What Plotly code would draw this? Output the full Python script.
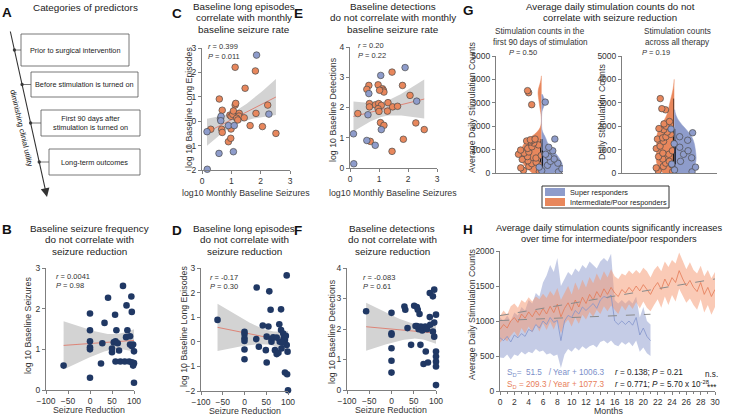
import numpy as np
import plotly.graph_objects as go

W, H = 730, 417
FONT = "Liberation Sans, Arial, sans-serif"
NAVY = "#203864"
ORANGE = "#E8875C"
BLUE = "#8E9CCB"
OUTL = "#4a4a4a"
REDLINE = "#E07060"
BAND = "#D3D3D3"

# ---------------- data ----------------
# B: seizure reduction vs log10 baseline seizures
b_red = [-60, 0, 0, 0, 0, 0, 0, 25, 28, 33, 41, 57, 50, 50, 54, 58, 60, 63, 66, 58, 69, 79, 75, 83, 85, 82, 91, 94, 95, 91, 95, 98, 100, 95, 100, 98, 100, 89]
b_sz = [0.60, 1.88, 1.47, 1.20, 1.05, 1.00, 0.30, 0.65, 1.15, 1.65, 2.27, 1.85, 0.93, 1.02, 1.17, 1.20, 1.47, 1.15, 0.97, 0.70, 0.70, 0.70, 2.56, 2.08, 1.47, 1.30, 1.32, 2.30, 1.92, 1.12, 1.08, 1.12, 0.95, 0.68, 0.66, 0.60, 0.18, 0.70]

# C: monthly baseline seizures vs long episodes
c_blue_x = [1.86, 0.18, 0.58, 1.07, 0.17, 0.63, 0.65, 0.64, 0.90, 1.10, 2.28]
c_blue_y = [2.71, -1.97, -1.32, -1.25, -0.43, 0.10, 0.20, 0.02, -0.18, -0.18, 0.29]
c_or_x = [1.13, 1.82, 1.47, 0.59, 1.13, 1.15, 0.69, 2.24, 1.84, 0.95, 0.99, 1.05, 1.07, 1.27, 1.26, 1.18, 1.44, 0.30, 0.67, 0.69, 0.99, 1.64, 2.06, 2.52, 0.90, 0.98, 1.22]
c_or_y = [2.21, 2.06, 1.35, 0.91, 0.66, 0.73, 0.45, 0.66, 0.32, 0.25, 0.20, 0.28, 0.42, 0.32, 0.21, 0.12, 0.14, -0.33, -0.33, -0.46, -0.32, -0.18, -0.22, -0.50, -0.84, -0.70, 0.05]

# D: seizure reduction vs long episodes
d_red = [-62, 0, 0, 0, 0, 0, 0, 27, 28, 33, 42, 49, 51, 51, 57, 55, 60, 62, 62, 66, 70, 74, 78, 80, 84, 81, 85, 84, 89, 90, 93, 95, 97, 97, 99, 93, 98, 100, 87, 74]
d_le = [0.89, 0.41, 0.32, 0.14, 0.03, -0.31, -0.71, 0.11, 2.21, -0.20, 0.66, -0.34, 0.21, -0.84, 2.05, 0.62, 1.30, 0.11, 0.00, 0.18, -0.34, -0.50, -0.45, 0.71, 1.32, 0.00, -0.27, 0.48, 0.34, 0.14, 0.07, 0.24, 2.70, -0.13, -0.40, -1.25, -1.32, -1.97, -0.04, 0.17]

# E: monthly baseline seizures vs detections
e_blue_x = [1.90, 1.06, 0.65, 0.62, 0.12, 0.13, 0.58, 0.87, 1.08, 2.30]
e_blue_y = [3.32, 3.06, 2.46, 1.76, 1.13, 0.14, 0.91, 0.75, 1.27, 2.21]
e_or_x = [1.45, 0.65, 0.58, 0.97, 1.12, 1.15, 1.17, 1.02, 1.81, 2.07, 0.27, 0.67, 0.67, 0.88, 0.99, 1.08, 0.97, 1.00, 1.29, 1.31, 1.47, 1.64, 1.05, 1.17, 0.70, 1.84, 1.45, 2.27, 2.56]
e_or_y = [3.17, 2.73, 2.60, 2.75, 2.62, 2.57, 2.51, 2.57, 2.73, 2.40, 1.80, 2.13, 2.02, 2.09, 2.13, 2.07, 1.96, 1.87, 1.88, 2.16, 2.02, 2.04, 1.50, 1.41, 0.88, 0.95, 0.55, 1.49, 1.27]

# F: seizure reduction vs detections
f_red = [-57, 0, 0, 0, 0, 0, 0, 29, 31, 36, 44, 51, 57, 59, 63, 54, 57, 61, 66, 69, 72, 76, 80, 65, 72, 77, 82, 86, 86, 93, 96, 96, 93, 96, 87, 100, 100, 100, 100, 100, 100]
f_det = [2.58, 2.53, 1.86, 1.81, 1.37, 0.96, 0.57, 2.74, 2.63, 2.03, 1.48, 2.76, 2.72, 2.63, 2.49, 2.10, 2.10, 1.99, 2.08, 1.95, 2.05, 2.08, 1.99, 1.48, 0.85, 1.26, 0.90, 2.39, 3.18, 3.07, 3.29, 2.21, 1.92, 1.75, 2.14, 2.47, 1.26, 1.10, 0.93, 0.77, 0.16]

# G: daily stimulation counts
g90_or = [3520, 3430, 2920, 1450, 1420, 1400, 1370, 1330, 1280, 1200, 1120, 1050, 980, 900, 870, 850, 800, 750, 700, 640, 580, 520, 460, 400, 340, 280, 220, 170, 110, 60]
g90_bl = [3030, 1450, 1100, 950, 800, 700, 600, 500, 420, 330, 250, 180, 100, 50]
gall_or = [3180, 2750, 2700, 2200, 2100, 2000, 1900, 1850, 1750, 1650, 1550, 1500, 1450, 1350, 1250, 1150, 1050, 950, 850, 800, 700, 600, 500, 420, 350, 280, 220, 150, 100, 60]
gall_bl = [1880, 1720, 1550, 1400, 1250, 1100, 950, 800, 650, 500, 380, 250, 130, 50]

# H: average daily stimulation counts over time
h_months_or = [i * 0.5 for i in range(61)]
h_or_mean = [880, 950, 900, 1000, 1050, 980, 1100, 1040, 1130, 1060, 1150, 1080, 1180, 1100, 1210, 1120, 1240, 1060, 1180, 1260,
             1150, 1300, 1200, 1340, 1250, 1380, 1300, 1420, 1340, 1460, 1380, 1480, 1400, 1350, 1450, 1400, 1480, 1420, 1500, 1430,
             1520, 1450, 1380, 1480, 1550, 1450, 1600, 1500, 1620, 1550, 1720, 1600, 1500, 1580, 1480, 1420, 1550, 1380, 1480, 1350, 1450]
h_or_sd = [190, 200, 190, 210, 200, 210, 200, 220, 210, 220, 200, 230, 210, 230, 220, 240, 230, 240, 220, 240,
           230, 250, 240, 250, 230, 250, 240, 260, 240, 250, 240, 260, 240, 250, 230, 250, 240, 250, 230, 250,
           240, 260, 240, 250, 240, 260, 250, 270, 250, 270, 260, 250, 240, 260, 250, 260, 240, 260, 250, 260, 250]
h_months_bl = [i * 0.5 for i in range(43)]
h_bl_mean = [760, 720, 780, 700, 800, 760, 820, 780, 880, 850, 950, 900, 1000, 950, 1050, 980, 1010, 720, 1000, 1080,
             1050, 1150, 1100, 1200, 1150, 1200, 1250, 1180, 1300, 1350, 1330, 1370, 1000, 950, 1000, 950, 1000, 940, 1050, 800,
             900, 780, 720]
h_bl_lo = [480, 470, 520, 450, 520, 500, 560, 520, 560, 540, 600, 560, 580, 520, 540, 500, 520, 330, 520, 600,
           560, 620, 580, 640, 600, 640, 660, 620, 700, 720, 680, 720, 660, 640, 700, 660, 700, 640, 720, 560,
           620, 540, 500]
h_bl_hi = [1050, 1000, 1080, 1000, 1120, 1080, 1200, 1150, 1300, 1250, 1400, 1350, 1550, 1650, 1800, 1700, 1900, 1500, 1600, 1700,
           1650, 1750, 1700, 1800, 1750, 1850, 1800, 1750, 1850, 1900, 1850, 1960, 1300, 1250, 1300, 1250, 1300, 1250, 1350, 1050,
           1200, 1000, 950]
h_fit_bl = (51.5, 1006.3)   # slope per year, intercept
h_fit_or = (209.3, 1077.3)

# ---------------- helpers ----------------
annotations = []
shapes = []


def txt(x, y, s, size=9.5, color="#222", xanchor="center", bold=False, angle=0, yanchor="middle"):
    if bold:
        s = "<b>" + s + "</b>"
    annotations.append(dict(x=x / W, y=1 - y / H, xref="paper", yref="paper", text=s, showarrow=False,
                            font=dict(size=size, color=color, family=FONT), xanchor=xanchor, yanchor=yanchor,
                            textangle=angle, borderpad=0))


def lines(xc, y0, arr, size=9.9, step=11.5, color="#222"):
    for k, s in enumerate(arr):
        txt(xc, y0 + k * step, s, size=size, color=color)


def rect(x0, y0, x1, y1, line="#555", fill=None, width=0.8):
    shapes.append(dict(type="rect", xref="paper", yref="paper", x0=x0 / W, x1=x1 / W, y0=1 - y1 / H, y1=1 - y0 / H,
                       line=dict(color=line, width=width), fillcolor=fill if fill else "rgba(0,0,0,0)"))


def seg(x0, y0, x1, y1, color="#444", width=0.8):
    shapes.append(dict(type="line", xref="paper", yref="paper", x0=x0 / W, x1=x1 / W, y0=1 - y0 / H, y1=1 - y1 / H,
                       line=dict(color=color, width=width)))


def dot(x, y, r=1.6, color="#444"):
    shapes.append(dict(type="circle", xref="paper", yref="paper", x0=(x - r) / W, x1=(x + r) / W,
                       y0=1 - (y + r) / H, y1=1 - (y - r) / H, fillcolor=color, line=dict(width=0)))


def reg_band(x, y, n_pts=60):
    x = np.asarray(x, float)
    y = np.asarray(y, float)
    n = len(x)
    b1, b0 = np.polyfit(x, y, 1)
    xs = np.linspace(x.min(), x.max(), n_pts)
    yh = b0 + b1 * xs
    resid = y - (b0 + b1 * x)
    s = np.sqrt(np.sum(resid ** 2) / (n - 2))
    sxx = np.sum((x - x.mean()) ** 2)
    se = s * np.sqrt(1.0 / n + (xs - x.mean()) ** 2 / sxx)
    t = 2.02
    return xs, yh, yh - t * se, yh + t * se


fig = go.Figure()


def axn(i):
    return ("x" if i == 1 else f"x{i}"), ("y" if i == 1 else f"y{i}")


def add_reg(i, x, y):
    xa, ya = axn(i)
    xs, yh, lo, hi = reg_band(x, y)
    fig.add_trace(go.Scatter(x=list(xs) + list(xs[::-1]), y=list(hi) + list(lo[::-1]), fill="toself",
                             fillcolor=BAND, line=dict(width=0), mode="lines", hoverinfo="skip",
                             xaxis=xa, yaxis=ya, showlegend=False))
    fig.add_trace(go.Scatter(x=xs, y=yh, mode="lines", line=dict(color=REDLINE, width=0.8),
                             xaxis=xa, yaxis=ya, showlegend=False, hoverinfo="skip"))


def add_pts(i, x, y, color, outline=None, size=6.6):
    xa, ya = axn(i)
    fig.add_trace(go.Scatter(x=x, y=y, mode="markers", cliponaxis=False,
                             marker=dict(color=color, size=size,
                                         line=dict(color=outline if outline else color, width=0.7 if outline else 0)),
                             xaxis=xa, yaxis=ya, showlegend=False))


# B
add_reg(1, b_red, b_sz)
add_pts(1, b_red, b_sz, NAVY)
# C
add_reg(2, c_or_x + c_blue_x, c_or_y + c_blue_y)
add_pts(2, c_or_x, c_or_y, ORANGE, OUTL)
add_pts(2, c_blue_x, c_blue_y, BLUE, OUTL)
# D
add_reg(3, d_red, d_le)
add_pts(3, d_red, d_le, NAVY)
# E
add_reg(4, e_or_x + e_blue_x, e_or_y + e_blue_y)
add_pts(4, e_or_x, e_or_y, ORANGE, OUTL)
add_pts(4, e_blue_x, e_blue_y, BLUE, OUTL)
# F
add_reg(5, f_red, f_det)
add_pts(5, f_red, f_det, NAVY)


# G violins
def add_violin(i, vals, side, color, width, bw, top, ppos):
    xa, ya = axn(i)
    fig.add_trace(go.Violin(y=vals, x0=0, side=side, fillcolor=color, line=dict(color=color, width=0.5),
                            points="all", pointpos=ppos, jitter=0.7,
                            marker=dict(color=color, size=6.5, line=dict(color=OUTL, width=0.7)),
                            width=width, bandwidth=bw, scalemode="width", spanmode="manual", span=[0, top],
                            box=dict(visible=True, width=0.04, fillcolor="black", line=dict(color="black", width=0.6)),
                            meanline=dict(visible=False), opacity=1,
                            xaxis=xa, yaxis=ya, showlegend=False, hoverinfo="skip"))


add_violin(6, g90_or, "negative", ORANGE, 0.62, 280, 4150, -0.45)
add_violin(6, g90_bl, "positive", BLUE, 0.62, 200, 3350, 0.45)
add_violin(7, gall_or, "negative", ORANGE, 0.38, 380, 4000, -0.45)
add_violin(7, gall_bl, "positive", BLUE, 0.46, 380, 2700, 0.45)

# H
xa, ya = axn(8)
fig.add_trace(go.Scatter(x=h_months_bl + h_months_bl[::-1], y=h_bl_hi + h_bl_lo[::-1], fill="toself",
                         fillcolor="rgba(150,162,210,0.55)", line=dict(width=0), mode="lines",
                         xaxis=xa, yaxis=ya, showlegend=False, hoverinfo="skip"))
or_hi = [m + s for m, s in zip(h_or_mean, h_or_sd)]
or_lo = [m - s for m, s in zip(h_or_mean, h_or_sd)]
fig.add_trace(go.Scatter(x=h_months_or + h_months_or[::-1], y=or_hi + or_lo[::-1], fill="toself",
                         fillcolor="rgba(245,150,110,0.5)", line=dict(width=0), mode="lines",
                         xaxis=xa, yaxis=ya, showlegend=False, hoverinfo="skip"))
fig.add_trace(go.Scatter(x=h_months_bl, y=h_bl_mean, mode="lines", line=dict(color="#8394CC", width=0.8),
                         xaxis=xa, yaxis=ya, showlegend=False))
fig.add_trace(go.Scatter(x=h_months_or, y=h_or_mean, mode="lines", line=dict(color="#E57A55", width=0.8),
                         xaxis=xa, yaxis=ya, showlegend=False))
for (slope, icpt), xmax in ((h_fit_bl, h_months_bl[-1]), (h_fit_or, h_months_or[-1])):
    fig.add_trace(go.Scatter(x=[0, xmax], y=[icpt, icpt + slope * xmax / 12.0], mode="lines",
                             line=dict(color="#8a8a8a", width=1, dash="dash"),
                             xaxis=xa, yaxis=ya, showlegend=False))

# ---------------- axes ----------------
specs = {
    1: dict(x=(46, 134), y=(268, 390), xr=[-100, 100], yr=[0, 3], xt=[-100, -50, 0, 50, 100], yt=[0, 1, 2, 3]),
    2: dict(x=(202, 290), y=(48, 170), xr=[0, 3], yr=[-2, 3], xt=[0, 1, 2, 3], yt=[-2, -1, 0, 1, 2, 3]),
    3: dict(x=(201, 288), y=(268, 391), xr=[-100, 100], yr=[-2, 3], xt=[-100, -50, 0, 50, 100], yt=[-2, -1, 0, 1, 2, 3]),
    4: dict(x=(350, 437), y=(47, 168), xr=[0, 3], yr=[0, 4], xt=[0, 1, 2, 3], yt=[0, 1, 2, 3, 4]),
    5: dict(x=(347, 436), y=(268, 390), xr=[-100, 100], yr=[0, 4], xt=[-100, -50, 0, 50, 100], yt=[0, 1, 2, 3, 4]),
    6: dict(x=(496, 563), y=(56, 173), xr=[-0.68, 0.32], yr=[0, 5000], xt=None, yt=[0, 1000, 2000, 3000, 4000, 5000]),
    7: dict(x=(622, 717), y=(56, 173), xr=[-0.55, 0.45], yr=[0, 5000], xt=None, yt=[0, 1000, 2000, 3000, 4000, 5000]),
    8: dict(x=(500, 715), y=(251, 391), xr=[0, 30], yr=[0, 2000], xt=list(range(0, 31, 2)), yt=[0, 500, 1000, 1500, 2000]),
}
base = dict(showline=True, linecolor="#7f7f7f", linewidth=1, ticks="outside", ticklen=3, tickcolor="#7f7f7f",
            tickwidth=1, showgrid=False, zeroline=False, tickfont=dict(size=8.5, color="#333", family=FONT),
            fixedrange=True, automargin=False)
layout_axes = {}
for i, s in specs.items():
    xk = "xaxis" if i == 1 else f"xaxis{i}"
    yk = "yaxis" if i == 1 else f"yaxis{i}"
    xa_, ya_ = axn(i)
    xd = dict(base, domain=[s["x"][0] / W, s["x"][1] / W], range=s["xr"], anchor=ya_)
    if s["xt"] is None:
        xd.update(ticks="", showticklabels=False)
    else:
        xd.update(tickmode="array", tickvals=s["xt"])
    if i == 8:
        xd.update(minor=dict(dtick=1, ticks="outside", ticklen=2, tickcolor="#7f7f7f"))
    yd = dict(base, domain=[1 - s["y"][1] / H, 1 - s["y"][0] / H], range=s["yr"], anchor=xa_,
              tickmode="array", tickvals=s["yt"])
    layout_axes[xk] = xd
    layout_axes[yk] = yd

# ---------------- text ----------------
for L, (x, y) in {"A": (7, 12), "B": (7, 229), "C": (177, 13), "D": (177, 230), "E": (298, 13), "F": (298, 230),
                  "G": (468, 11), "H": (468, 229)}.items():
    txt(x, y, L, size=13.5, color="#111", bold=True)

txt(85, 7, "Categories of predictors", size=9.9)
lines(89, 228, ["Baseline seizure frequency", "do not correlate with", "seizure reduction"])
lines(244, 6, ["Baseline long episodes", "correlate with monthly", "baseline seizure rate"])
lines(244, 228, ["Baseline long episodes", "do not correlate with", "seizure reduction"])
lines(393, 6, ["Baseline detections", "do not correlate with monthly", "baseline seizure rate"])
lines(392, 228, ["Baseline detections", "do not correlate with", "seizure reduction"])
lines(610, 6, ["Average daily stimulation counts do not", "correlate with seizure reduction"], size=9.7)
lines(540, 32, ["Stimulation counts in the", "first 90 days of stimulation"], size=8.2, step=10.5, color="#333")
lines(677, 32, ["Stimulation counts", "across all therapy"], size=8.2, step=10.5, color="#333")
lines(609, 228, ["Average daily stimulation counts significantly increases",
                 "over time for intermediate/poor responders"], size=9.3, step=11)

AX = "#333"
txt(28, 326, "log 10 Baseline Seizures", size=8.8, color=AX, angle=-90)
txt(89, 410, "Seizure Reduction", size=8.8, color=AX)
txt(189, 108, "log 10 Baseline Long Episodes", size=8.8, color=AX, angle=-90)
txt(246, 193, "log10 Monthly Baseline Seizures", size=8.8, color=AX)
txt(184, 327, "log 10 Baseline Long Episodes", size=8.8, color=AX, angle=-90)
txt(245, 411, "Seizure Reduction", size=8.8, color=AX)
txt(333, 110, "log 10 Baseline Detections", size=8.8, color=AX, angle=-90)
txt(393, 193, "log10 Monthly Baseline Seizures", size=8.8, color=AX)
txt(332, 332, "log 10 Baseline Detections", size=8.8, color=AX, angle=-90)
txt(391, 410, "Seizure Reduction", size=8.8, color=AX)
txt(472, 108, "Average Daily Stimulation Counts", size=8.8, color=AX, angle=-90)
txt(602, 112, "Daily Stimulation Counts", size=8.8, color=AX, angle=-90)
txt(472, 315, "Average Daily Stimulation Counts", size=8.8, color=AX, angle=-90)
txt(608, 411, "Months", size=8.8, color=AX)

ST = 7.5
txt(55, 276, "<i>r</i> = 0.0041", size=ST, color=AX, xanchor="left")
txt(55, 285, "<i>P</i> = 0.98", size=ST, color=AX, xanchor="left")
txt(207, 47, "<i>r</i> = 0.399", size=ST, color=AX, xanchor="left")
txt(207, 56, "<i>P</i> = 0.011", size=ST, color=AX, xanchor="left")
txt(209, 277, "<i>r</i> = -0.17", size=ST, color=AX, xanchor="left")
txt(209, 286, "<i>P</i> = 0.30", size=ST, color=AX, xanchor="left")
txt(357, 46, "<i>r</i> = 0.20", size=ST, color=AX, xanchor="left")
txt(357, 55, "<i>P</i> = 0.22", size=ST, color=AX, xanchor="left")
txt(362, 277, "<i>r</i> = -0.083", size=ST, color=AX, xanchor="left")
txt(362, 286, "<i>P</i> = 0.61", size=ST, color=AX, xanchor="left")
txt(508, 53, "<i>P</i> = 0.50", size=ST, color=AX, xanchor="left")
txt(641, 53, "<i>P</i> = 0.19", size=ST, color=AX, xanchor="left")

txt(506, 373, "S<sub>D</sub>=  51.5   / Year + 1006.3", size=8.2, color="#7C8FC9", xanchor="left")
txt(506, 385, "S<sub>D</sub> = 209.3 / Year + 1077.3", size=8.2, color="#E8805A", xanchor="left")
txt(614, 372, "<i>r</i> = 0.138; <i>P</i> = 0.21", size=8.2, color="#222", xanchor="left")
txt(614, 384, "<i>r</i> = 0.771; <i>P</i> = 5.70 x 10<sup>-28</sup>", size=8.2, color="#222", xanchor="left")
txt(704, 374, "n.s.", size=8.2, color="#222", xanchor="left")
txt(706, 387, "***", size=8.2, color="#222", xanchor="left")

rect(542, 186, 669, 208, line="#333", width=1)
rect(545, 188, 565, 196, line=BLUE, fill=BLUE, width=0)
rect(545, 198, 565, 206, line=ORANGE, fill=ORANGE, width=0)
txt(569, 192, "Super responders", size=7.3, color="#222", xanchor="left")
txt(569, 202, "Intermediate/Poor responders", size=7.3, color="#222", xanchor="left")

# ---------------- panel A diagram ----------------
boxes = [(21, 34, 129, 66, "Prior to surgical intervention"),
         (31, 72, 138, 97, "Before stimulation is turned on"),
         (41, 110, 140, 136, "First 90 days after<br>stimulation is turned on"),
         (49, 149, 140, 175, "Long-term outcomes")]
ax0, ay0, ax1, ay1 = 10, 30, 47, 197
for (x0, y0, x1, y1, label) in boxes:
    rect(x0, y0, x1, y1, line="#555", width=0.8)
    txt((x0 + x1) / 2, (y0 + y1) / 2, label, size=7.3, color="#222")
    yc = (y0 + y1) / 2
    xl = ax0 + (yc - ay0) * (ax1 - ax0) / (ay1 - ay0)
    seg(xl, yc, x0, yc, color="#555", width=0.8)
    dot(xl, yc, r=1.7, color="#444")
annotations.append(dict(x=ax1 / W, y=1 - ay1 / H, xref="paper", yref="paper", text="", showarrow=True,
                        ax=ax0 - ax1, ay=ay0 - ay1, arrowhead=2, arrowsize=1.6, arrowwidth=1.1,
                        arrowcolor="#333"))
txt(21, 128, "diminishing clinial utility", size=7.6, color="#222", angle=77)

fig.update_layout(template="none", width=W, height=H, margin=dict(l=0, r=0, t=0, b=0, autoexpand=False),
                  paper_bgcolor="white", plot_bgcolor="white", showlegend=False, violinmode="overlay",
                  violingap=0, font=dict(family=FONT, color="#222"), annotations=annotations, shapes=shapes,
                  **layout_axes)
fig.write_html("out.html", config={"displayModeBar": False, "staticPlot": True},
               post_script="document.body.style.margin='0';document.body.style.padding='0';"
                           "document.documentElement.style.margin='0';")
